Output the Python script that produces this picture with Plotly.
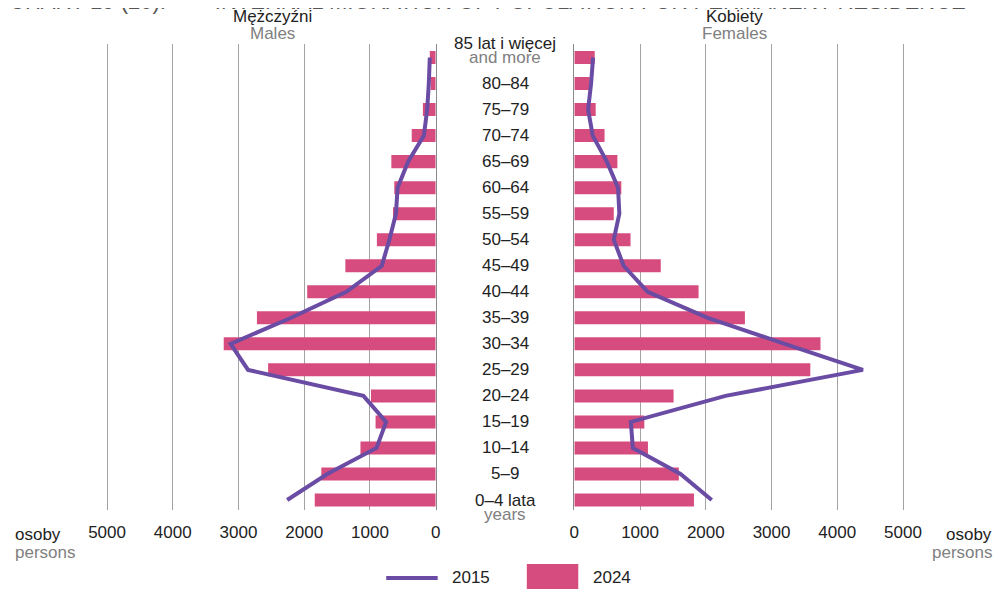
import plotly.graph_objects as go

# ---------------- data (bottom -> top) ----------------
ages = ["0–4", "5–9", "10–14", "15–19", "20–24", "25–29", "30–34", "35–39", "40–44",
        "45–49", "50–54", "55–59", "60–64", "65–69", "70–74", "75–79", "80–84", "85+"]
labels = ["0–4 lata", "5–9", "10–14", "15–19", "20–24", "25–29", "30–34", "35–39", "40–44",
          "45–49", "50–54", "55–59", "60–64", "65–69", "70–74", "75–79", "80–84", "85 lat i więcej"]
sublabels = {"0–4": "years", "85+": "and more"}

male_2024 = [1840, 1740, 1145, 915, 985, 2550, 3225, 2720, 1955, 1375, 895, 650, 630, 675, 365, 195, 75, 90]
male_2015 = [2260, 1650, 900, 755, 1100, 2855, 3120, 2200, 1360, 820, 705, 605, 580, 420, 180, 130, 105, 90]
female_2024 = [1820, 1590, 1120, 1065, 1510, 3590, 3745, 2595, 1890, 1315, 855, 600, 715, 655, 460, 325, 235, 310]
female_2015 = [2090, 1615, 890, 860, 2300, 4390, 3200, 2030, 1115, 750, 600, 685, 665, 495, 280, 210, 255, 285]

tick_vals = [0, 1000, 2000, 3000, 4000, 5000]
tick_text = ["0", "1000", "2000", "3000", "4000", "5000"]

# ---------------- styling ----------------
OFF = 8                      # page body margin
W, H = 1007 - OFF, 589 - OFF
PINK = "#D64C7E"
PURPLE = "#6A4CA4"
GRID = "#a3a3a3"
SUB = "#808080"
FONT = "Liberation Sans, Arial, Helvetica, sans-serif"
FS = 17

def px(x):
    """screen x -> paper fraction"""
    return (x - OFF) / W

def py(y):
    """screen y -> paper fraction"""
    return (H - (y - OFF)) / H

ppu = 332 / 5000.0  # pixels per person

fig = go.Figure()

fig.add_trace(go.Bar(x=male_2024, y=ages, orientation="h", width=0.5,
                     marker=dict(color=PINK, line=dict(width=0)),
                     xaxis="x", yaxis="y", showlegend=False))
fig.add_trace(go.Scatter(x=male_2015, y=ages, mode="lines",
                         line=dict(color=PURPLE, width=4),
                         xaxis="x", yaxis="y", showlegend=False))
fig.add_trace(go.Bar(x=female_2024, y=ages, orientation="h", width=0.5,
                     marker=dict(color=PINK, line=dict(width=0)),
                     xaxis="x2", yaxis="y2", showlegend=False))
fig.add_trace(go.Scatter(x=female_2015, y=ages, mode="lines",
                         line=dict(color=PURPLE, width=4),
                         xaxis="x2", yaxis="y2", showlegend=False))

ydom = [py(510), py(44)]
yrange = [-0.384, 17.519]

xcommon = dict(tickvals=tick_vals, ticktext=tick_text, showgrid=True, gridcolor=GRID,
               gridwidth=1, zeroline=False, showline=False, ticks="",
               tickfont=dict(size=FS, color="#222", family=FONT), ticklabelstandoff=10)
ycommon = dict(domain=ydom, type="category", categoryorder="array", categoryarray=ages,
               range=yrange, showticklabels=False, showgrid=False, zeroline=False,
               showline=True, linecolor="#8a8a8a", linewidth=1, ticks="")

fig.update_layout(
    width=W, height=H,
    margin=dict(l=0, r=0, t=0, b=0),
    paper_bgcolor="white", plot_bgcolor="white",
    font=dict(family=FONT, size=FS, color="#222"),
    xaxis=dict(domain=[0, px(435)], range=[(435 - OFF) / ppu, 0], anchor="y", **xcommon),
    xaxis2=dict(domain=[px(575), 1], range=[0, (1007 - 575) / ppu], anchor="y2", **xcommon),
    yaxis=dict(anchor="x", side="right", **ycommon),
    yaxis2=dict(anchor="x2", side="left", matches="y", **ycommon),
)

def note(x, y, text, color="#222", xanchor="center", size=FS):
    return dict(x=px(x), y=py(y), xref="paper", yref="paper", xanchor=xanchor,
                yanchor="middle", text=text, showarrow=False,
                font=dict(size=size, color=color))

ann = []
# category labels in the middle
for a, lab in zip(ages, labels):
    base = dict(x=px(505), xref="paper", y=a, yref="y", showarrow=False,
                xanchor="center", yanchor="middle")
    if a == "85+":
        ann.append(dict(base, text=lab, font=dict(size=FS, color="#222"), yshift=14))
        ann.append(dict(base, text=sublabels[a], font=dict(size=FS, color=SUB), yshift=0))
    elif a == "0–4":
        ann.append(dict(base, text=lab, font=dict(size=FS, color="#222"), yshift=0))
        ann.append(dict(base, text=sublabels[a], font=dict(size=FS, color=SUB), yshift=-14))
    else:
        ann.append(dict(base, text=lab, font=dict(size=FS, color="#222")))

# headers
ann += [
    note(270, 17, "Mężczyźni"),
    note(270, 34, "Males", SUB),
    note(737, 17, "Kobiety"),
    note(737, 34, "Females", SUB),
]
# unit labels
ann += [
    note(8, 534, "osoby", xanchor="left"),
    note(8, 552, "persons", SUB, xanchor="left"),
    note(999, 534, "osoby", xanchor="right"),
    note(999, 552, "persons", SUB, xanchor="right"),
]
# title (clipped at top, as in the source)
ann.append(dict(x=-6 / W, y=1, xref="paper", yref="paper", xanchor="left", yanchor="bottom",
                text="CHART 19 (20)." + "\u00a0" * 8 + "INTERNAL MIGRATION OF POPULATION FOR PERMANENT RESIDENCE",
                showarrow=False, font=dict(size=22, color="#555"), yshift=-8))
# legend labels
ann += [
    note(449, 577, "2015", xanchor="left"),
    note(592, 577, "2024", xanchor="left"),
]
fig.update_layout(annotations=ann)

fig.update_layout(shapes=[
    dict(type="line", xref="paper", yref="paper", x0=px(385), x1=px(437), y0=py(578), y1=py(578),
         line=dict(color=PURPLE, width=4)),
    dict(type="rect", xref="paper", yref="paper", x0=px(527), x1=px(579), y0=py(589), y1=py(564),
         fillcolor=PINK, line=dict(width=0)),
])

fig.write_html("out.html")
